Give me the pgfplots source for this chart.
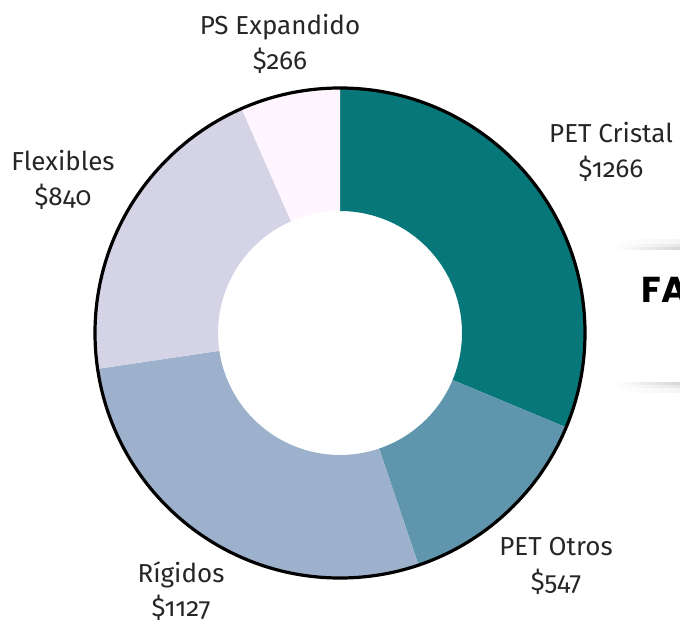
\documentclass[border=0pt]{standalone}
\usepackage{fontspec}
\setmainfont{Fira Sans}[Numbers=OldStyle]
\newfontfamily\boxfont{Poppins}
\usepackage{pgfplots}
\usepackage{pgfplotstable}
\pgfplotsset{compat=1.18}

% value per category; lx/ly = label centre in pixel units (y up)
\pgfplotstableread{
name            value  hex     lx   ly
{PET Cristal}   1266   08777A  611  470
{PET Otros}     547    6096AD  556  56
{Rígidos}       1127   9EB1CC  181  31
{Flexibles}     840    D5D3E6  63   442
{PS Expandido}  266    FFF5FE  280  578
}\data

\begin{document}
\begin{tikzpicture}
\useasboundingbox (0,0) rectangle (510pt,466.5pt);
\begin{axis}[
    hide axis, clip=false,
    x=0.75pt, y=0.75pt,
    xmin=0, xmax=680, ymin=0, ymax=622,
    anchor=origin, at={(0,0)},
  ]
  \pgfplotsextra{
    \def\cx{340}\def\cy{289}\def\R{245}\def\r{122}
    \xdef\total{0}
    \foreach \i in {0,...,4}{
      \pgfplotstablegetelem{\i}{value}\of\data
      \pgfmathsetmacro\t{\total+\pgfplotsretval}\xdef\total{\t}
    }
    \xdef\cum{0}
    \foreach \i in {0,...,4}{
      \pgfplotstablegetelem{\i}{value}\of\data \let\v\pgfplotsretval
      \pgfplotstablegetelem{\i}{hex}\of\data \definecolor{slice}{HTML}{\pgfplotsretval}
      \pgfmathsetmacro\aone{90-(\cum/\total)*360}
      \pgfmathsetmacro\atwo{90-((\cum+\v)/\total)*360}
      \fill[slice] (axis cs:{\cx+\R*cos(\aone)},{\cy+\R*sin(\aone)})
        arc[start angle=\aone, end angle=\atwo, radius=\R*0.75pt]
        -- (axis cs:{\cx+\r*cos(\atwo)},{\cy+\r*sin(\atwo)})
        arc[start angle=\atwo, end angle=\aone, radius=\r*0.75pt] -- cycle;
      \pgfmathsetmacro\c{\cum+\v}\xdef\cum{\c}
    }
    \draw[line width=2.4pt] (axis cs:\cx,\cy) circle[radius=\R*0.75pt];
    \foreach \i in {0,...,4}{
      \pgfplotstablegetelem{\i}{name}\of\data \let\nm\pgfplotsretval
      \pgfplotstablegetelem{\i}{value}\of\data \let\v\pgfplotsretval
      \pgfplotstablegetelem{\i}{lx}\of\data \let\lx\pgfplotsretval
      \pgfplotstablegetelem{\i}{ly}\of\data \let\ly\pgfplotsretval
      \node[align=center, font=\fontsize{19.5}{26}\selectfont, text=black!85]
        at (axis cs:\lx,\ly) {\nm\\\$\v};
    }
    % partially visible card on the right: soft shadow bands above and below
    \shade[left color=white, right color=black!16] (axis cs:615,373) rectangle (axis cs:680,376);
    \shade[left color=white, right color=black!9]  (axis cs:615,376) rectangle (axis cs:680,379);
    \shade[left color=white, right color=black!4]  (axis cs:615,379) rectangle (axis cs:680,383);
    \shade[left color=white, right color=black!16] (axis cs:615,237) rectangle (axis cs:680,240);
    \shade[left color=white, right color=black!9]  (axis cs:615,234) rectangle (axis cs:680,237);
    \shade[left color=white, right color=black!4]  (axis cs:615,230) rectangle (axis cs:680,234);
    \node[anchor=base west, font=\boxfont\bfseries\fontsize{27}{32}\selectfont]
      at (axis cs:637,320) {FA};
  }
\end{axis}
\end{tikzpicture}
\end{document}
